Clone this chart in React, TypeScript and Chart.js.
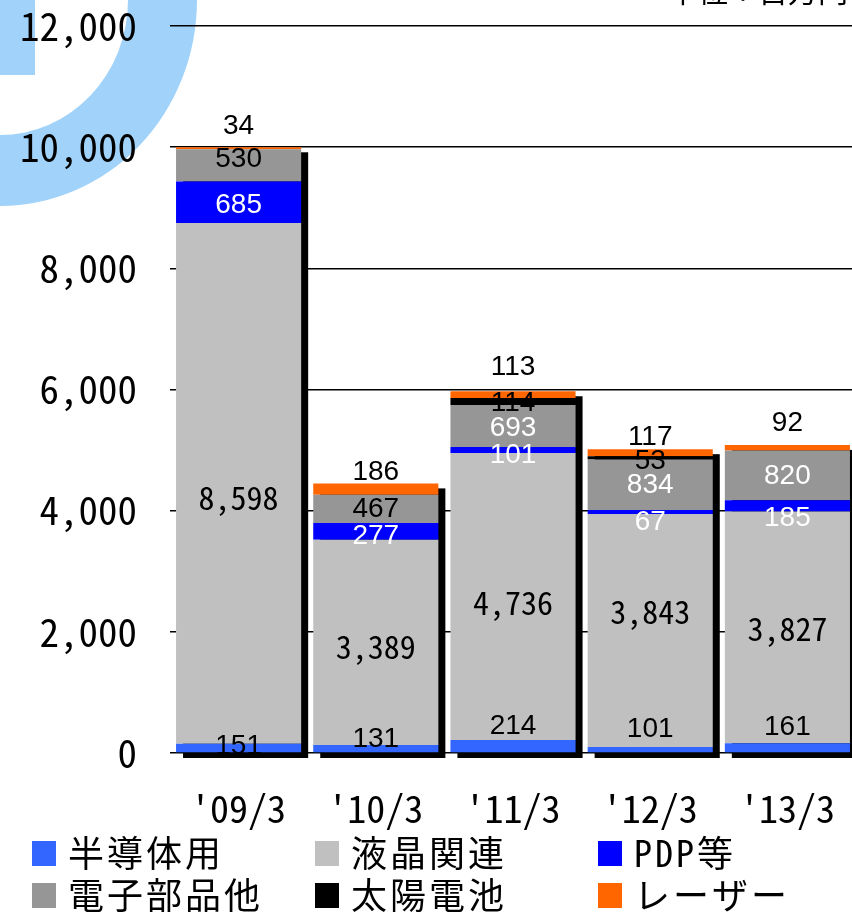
import React, { useEffect, useRef } from 'react';
import { Chart, registerables } from 'chart.js';

Chart.register(...registerables);

// ---- data ----
const categories = ["'09/3", "'10/3", "'11/3", "'12/3", "'13/3"];
const seriesNames = ['半導体用', '液晶関連', 'PDP等', '電子部品他', '太陽電池', 'レーザー'];
const semiconductor = [151, 131, 214, 101, 161];
const lcd = [8598, 3389, 4736, 3843, 3827];
const pdp = [685, 277, 101, 67, 185];
const electronic = [530, 467, 693, 834, 820];
const solar = [null, null, 114, 53, null];
const laser = [34, 186, 113, 117, 92];
const yTicks = [0, 2000, 4000, 6000, 8000, 10000, 12000];
const unitLabel = '単位：百万円';

// ---- styles ----
const colors = ['#3366ff', '#c0c0c0', '#0000ff', '#969696', '#000000', '#ff6600'];
const labelColors = [
  ['#000', '#000', '#000', '#000', '#000'],
  ['#000', '#000', '#000', '#000', '#000'],
  ['#fff', '#fff', '#fff', '#fff', '#fff'],
  ['#000', '#000', '#fff', '#fff', '#fff'],
  ['#000', '#000', '#000', '#000', '#000'],
  ['#000', '#000', '#000', '#000', '#000'],
];
// vertical nudges of value labels (px), relative to segment centre (top edge for the last series)
const labelNudge = [
  [-2, -9, -20, -20, -20],
  [14, 4, 6, -19, 2],
  [3, 5, 5, 10, 12],
  [-6, 0, 2, 1, 1],
  [0, 0, 2, 3, 0],
  [-21, -11, -24, -12, -22],
];
const MONO = '"Noto Sans Mono CJK JP", "Liberation Mono", monospace';
const SANS = '"Liberation Sans", Arial, sans-serif';
const CJK = '"Noto Sans Mono CJK JP", "Noto Sans CJK JP", sans-serif';

const seriesData = [semiconductor, lcd, pdp, electronic, solar, laser];

const backgroundPlugin = {
  id: 'bgWatermark',
  beforeDraw(chart: any) {
    const ctx = chart.ctx;
    ctx.save();
    ctx.fillStyle = '#ffffff';
    ctx.fillRect(0, 0, chart.width, chart.height);
    ctx.fillStyle = 'rgb(160,210,250)';
    ctx.beginPath();
    ctx.ellipse(0, 0, 197, 206, 0, 0, Math.PI / 2, false);
    ctx.ellipse(0, 0, 128, 135, 0, Math.PI / 2, 0, true);
    ctx.closePath();
    ctx.fill();
    ctx.fillRect(0, 0, 35, 75);
    ctx.restore();
  },
};

const shadowPlugin = {
  id: 'barShadow',
  beforeDatasetsDraw(chart: any) {
    const ctx = chart.ctx;
    const y = chart.scales.y;
    const meta0 = chart.getDatasetMeta(0);
    ctx.save();
    ctx.fillStyle = '#000';
    categories.forEach((_, j) => {
      const el: any = meta0.data[j];
      if (!el) return;
      let total = 0;
      seriesData.forEach((s) => { total += (s[j] as number) || 0; });
      const top = y.getPixelForValue(total);
      const base = y.getPixelForValue(0);
      const w = el.width;
      ctx.fillRect(el.x - w / 2 + 7, top + 5, w, base - top);
    });
    ctx.restore();
  },
};

const labelPlugin = {
  id: 'valueLabels',
  afterDatasetsDraw(chart: any) {
    const ctx = chart.ctx;
    ctx.save();
    ctx.textAlign = 'center';
    ctx.textBaseline = 'middle';
    chart.data.datasets.forEach((ds: any, i: number) => {
      const meta = chart.getDatasetMeta(i);
      ds.data.forEach((v: any, j: number) => {
        if (v === null || v === undefined) return;
        const el: any = meta.data[j];
        const text = v.toLocaleString('en-US');
        const isLast = i === chart.data.datasets.length - 1;
        const cy = isLast ? el.y + labelNudge[i][j] : (el.y + el.base) / 2 + labelNudge[i][j];
        ctx.font = text.includes(',') ? `32px ${MONO}` : `28px ${SANS}`;
        ctx.fillStyle = labelColors[i][j];
        ctx.fillText(text, el.x, cy);
      });
    });
    ctx.restore();
  },
};

const legendPlugin = {
  id: 'gridLegend',
  afterDraw(chart: any) {
    const ctx = chart.ctx;
    const colX = [32, 315, 598];
    const rowY = [853, 895];
    ctx.save();
    chart.data.datasets.forEach((ds: any, i: number) => {
      const x = colX[i % 3];
      const yc = rowY[Math.floor(i / 3)];
      ctx.fillStyle = ds.backgroundColor;
      ctx.fillRect(x, yc - 12, 24, 25);
      ctx.fillStyle = '#000';
      ctx.font = `36px ${CJK}`;
      (ctx as any).letterSpacing = '3px';
      ctx.textAlign = 'left';
      ctx.textBaseline = 'middle';
      ctx.fillText(ds.label, x + 36, yc);
    });
    (ctx as any).letterSpacing = '0px';
    ctx.font = `30px ${CJK}`;
    ctx.textAlign = 'right';
    ctx.textBaseline = 'alphabetic';
    ctx.fillStyle = '#000';
    ctx.fillText(unitLabel, 848, 2);
    ctx.restore();
  },
};

export default function App() {
  const ref = useRef<HTMLCanvasElement>(null);
  useEffect(() => {
    if (!ref.current) return;
    const chart = new Chart(ref.current, {
      type: 'bar',
      data: {
        labels: categories,
        datasets: seriesData.map((d, i) => ({
          label: seriesNames[i],
          data: d as any,
          backgroundColor: colors[i],
          borderWidth: 0,
          barPercentage: 0.912,
          categoryPercentage: 1,
        })),
      },
      options: {
        animation: false,
        responsive: false,
        devicePixelRatio: 1,
        layout: { padding: { top: 26, bottom: 80, left: 0, right: 0 } },
        plugins: { legend: { display: false }, tooltip: { enabled: false } },
        scales: {
          x: {
            stacked: true,
            grid: { display: false, drawTicks: false },
            border: { display: false },
            ticks: { color: '#000', font: { family: MONO, size: 38 }, padding: 33 },
            afterFit: (s: any) => { s.height = 79; s.paddingLeft = 0; s.paddingRight = 0; },
          },
          y: {
            stacked: true,
            min: 0,
            max: 12000,
            afterBuildTicks: (s: any) => { s.ticks = yTicks.map((v) => ({ value: v })); },
            grid: { color: '#000', lineWidth: 1.5, drawTicks: false },
            border: { display: false },
            ticks: {
              color: '#000',
              font: { family: MONO, size: 39 },
              padding: 33,
              callback: (v: any) => Number(v).toLocaleString('en-US'),
            },
            afterFit: (s: any) => { s.width = 170; s.paddingTop = 0; s.paddingBottom = 0; },
          },
        },
      },
      plugins: [backgroundPlugin, shadowPlugin, labelPlugin, legendPlugin],
    });
    return () => chart.destroy();
  }, []);
  return (
    <div style={{ position: 'fixed', left: 0, top: 0, width: 852, height: 912, overflow: 'hidden', background: '#fff' }}>
      <canvas ref={ref} width={856} height={912} style={{ width: 856, height: 912, display: 'block' }} />
    </div>
  );
}
